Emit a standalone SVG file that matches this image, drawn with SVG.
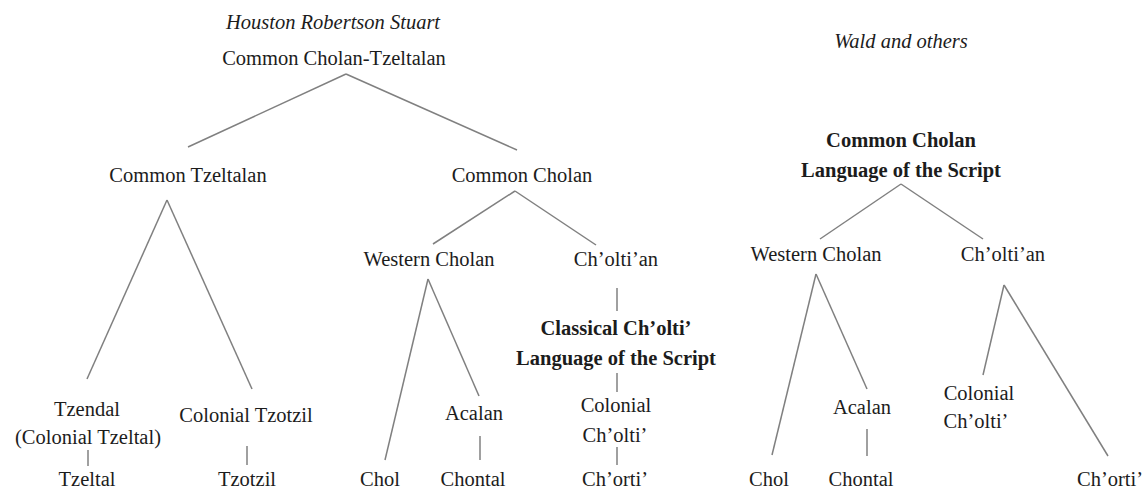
<svg xmlns="http://www.w3.org/2000/svg" width="1143" height="488" viewBox="0 0 1143 488">
<style>
text{font-family:"Liberation Serif","Times New Roman",serif;font-size:20.5px;fill:#1c1c1c;text-anchor:middle}
.i{font-style:italic}
.b{font-weight:bold}
#connectors line{stroke:#808080;stroke-width:1.5;fill:none}
</style>
<rect width="1143" height="488" fill="#fff"/>
<g id="connectors">
<line x1="346" y1="74" x2="188" y2="147"/>
<line x1="346" y1="74" x2="517" y2="150"/>
<line x1="167" y1="200" x2="87" y2="379"/>
<line x1="167" y1="200" x2="252" y2="389"/>
<line x1="88" y1="450" x2="88" y2="466"/>
<line x1="247" y1="446" x2="247" y2="465"/>
<line x1="515" y1="191" x2="433" y2="244"/>
<line x1="515" y1="191" x2="596" y2="245"/>
<line x1="428" y1="279" x2="385" y2="460"/>
<line x1="428" y1="279" x2="479" y2="396"/>
<line x1="480" y1="436" x2="480" y2="460"/>
<line x1="617" y1="288" x2="617" y2="311"/>
<line x1="617" y1="373" x2="617" y2="392"/>
<line x1="617" y1="447" x2="617" y2="465"/>
<line x1="901" y1="184" x2="820" y2="239"/>
<line x1="901" y1="184" x2="983" y2="239"/>
<line x1="816" y1="274" x2="772" y2="455"/>
<line x1="816" y1="274" x2="867" y2="389"/>
<line x1="867" y1="429" x2="867" y2="456"/>
<line x1="1004" y1="285" x2="983" y2="375"/>
<line x1="1004" y1="285" x2="1108" y2="456"/>
</g>
<g id="title-left"><text class="i" x="333" y="29">Houston Robertson Stuart</text></g>
<g id="title-right"><text class="i" x="901" y="48">Wald and others</text></g>
<g id="n-cct"><text x="334" y="65">Common Cholan-Tzeltalan</text></g>
<g id="n-ctz"><text x="188" y="182">Common Tzeltalan</text></g>
<g id="n-cch"><text x="522" y="182">Common Cholan</text></g>
<g id="n-tzendal"><text x="87" y="416">Tzendal</text><text x="88" y="444">(Colonial Tzeltal)</text></g>
<g id="n-tzeltal"><text x="87" y="486">Tzeltal</text></g>
<g id="n-coltzotzil"><text x="246" y="422">Colonial Tzotzil</text></g>
<g id="n-tzotzil"><text x="247" y="486">Tzotzil</text></g>
<g id="n-wch-l"><text x="429" y="266">Western Cholan</text></g>
<g id="n-choltian-l"><text x="616" y="266">Ch’olti’an</text></g>
<g id="n-classical"><text class="b" x="616" y="335">Classical Ch’olti’</text><text class="b" x="616" y="365">Language of the Script</text></g>
<g id="n-colcholti-l"><text x="616" y="412">Colonial</text><text x="615" y="442">Ch’olti’</text></g>
<g id="n-chorti-l"><text x="615" y="486">Ch’orti’</text></g>
<g id="n-acalan-l"><text x="474" y="420">Acalan</text></g>
<g id="n-chol-l"><text x="380" y="486">Chol</text></g>
<g id="n-chontal-l"><text x="473" y="486">Chontal</text></g>
<g id="n-cch-r"><text class="b" x="901" y="147">Common Cholan</text><text class="b" x="901" y="177">Language of the Script</text></g>
<g id="n-wch-r"><text x="816" y="261">Western Cholan</text></g>
<g id="n-choltian-r"><text x="1003" y="261">Ch’olti’an</text></g>
<g id="n-acalan-r"><text x="862" y="414">Acalan</text></g>
<g id="n-colcholti-r"><text x="979" y="400">Colonial</text><text x="976" y="428">Ch’olti’</text></g>
<g id="n-chol-r"><text x="769" y="486">Chol</text></g>
<g id="n-chontal-r"><text x="861" y="486">Chontal</text></g>
<g id="n-chorti-r"><text x="1110" y="486">Ch’orti’</text></g>
</svg>
